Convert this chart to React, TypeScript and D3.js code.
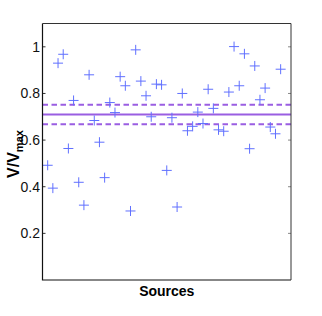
import * as d3 from 'd3'

// V/Vmax value per source, in source order (1..46)
const VALUES = [
  0.492, 0.394, 0.930, 0.968, 0.564, 0.770, 0.419, 0.321, 0.880, 0.684,
  0.591, 0.439, 0.761, 0.718, 0.872, 0.833, 0.296, 0.987, 0.853, 0.790,
  0.700, 0.840, 0.837, 0.470, 0.696, 0.313, 0.800, 0.640, 0.659, 0.720,
  0.671, 0.818, 0.736, 0.644, 0.638, 0.806, 1.001, 0.833, 0.970, 0.563,
  0.918, 0.773, 0.823, 0.656, 0.627, 0.904,
]
const MEAN = 0.71
const BAND = [0.668, 0.752]
const Y_TICKS = [0.2, 0.4, 0.6, 0.8, 1]

const W = 322
const H = 316
const M = { left: 42.5, right: 31, top: 23.5, bottom: 36 }
const PLUS = 5
const BLUE = '#6070ff'
const PURPLE = '#9a5ee2'
const FONT = '"Liberation Sans", Arial, sans-serif'
const NARROW = '"Liberation Sans Narrow", "Arial Narrow", "Liberation Sans", sans-serif'

export default function App() {
  const x = d3.scaleLinear().domain([0, 48]).range([M.left, W - M.right])
  const y = d3.scaleLinear().domain([0, 1.1]).range([H - M.bottom, M.top])
  const [x0, x1] = x.range()
  const [yb, yt] = y.range()

  return (
    <svg width={W} height={H} style={{ position: 'absolute', left: 0, top: 0, background: '#fff' }}>
      {/* mean and band lines */}
      <line x1={x0} x2={x1} y1={y(MEAN)} y2={y(MEAN)} stroke={PURPLE} strokeWidth={2} />
      {BAND.map((v) => (
        <line key={v} x1={x0} x2={x1} y1={y(v)} y2={y(v)} stroke={PURPLE} strokeWidth={2} strokeDasharray="5.5,3.5" />
      ))}

      {/* markers */}
      {VALUES.map((v, i) => {
        const cx = x(i + 1)
        const cy = y(v)
        return (
          <g key={i} stroke={BLUE} strokeWidth={1}>
            <line x1={cx - PLUS} x2={cx + PLUS} y1={cy} y2={cy} />
            <line x1={cx} x2={cx} y1={cy - PLUS} y2={cy + PLUS} />
          </g>
        )
      })}

      {/* ticks both sides */}
      {Y_TICKS.map((t) => (
        <g key={t}>
          <line x1={x0} x2={x0 + 3} y1={y(t)} y2={y(t)} stroke="#333" />
          <line x1={x1} x2={x1 - 3} y1={y(t)} y2={y(t)} stroke="#888" />
          <text x={x0 - 2.5} y={y(t)} textAnchor="end" dominantBaseline="central"
            fontFamily={NARROW} fontSize={14} fill="#111">{d3.format('~g')(t)}</text>
        </g>
      ))}

      {/* box */}
      <path d={`M${x0},${yt}V${yb}H${x1}`} fill="none" stroke="#111" strokeWidth={1.2} />
      <path d={`M${x0},${yt}H${x1}V${yb}`} fill="none" stroke="#333" strokeWidth={1} />

      {/* axis labels */}
      <text x={(x0 + x1) / 2} y={291} textAnchor="middle" dominantBaseline="central"
        fontFamily={FONT} fontWeight="bold" fontSize={14} fill="#000">Sources</text>
      <text transform={`translate(18.5, 154) rotate(-90)`} textAnchor="middle"
        fontFamily={FONT} fontWeight="bold" fontSize={16} fill="#000">
        V/V<tspan fontSize={11} dy={4}>max</tspan>
      </text>
    </svg>
  )
}
